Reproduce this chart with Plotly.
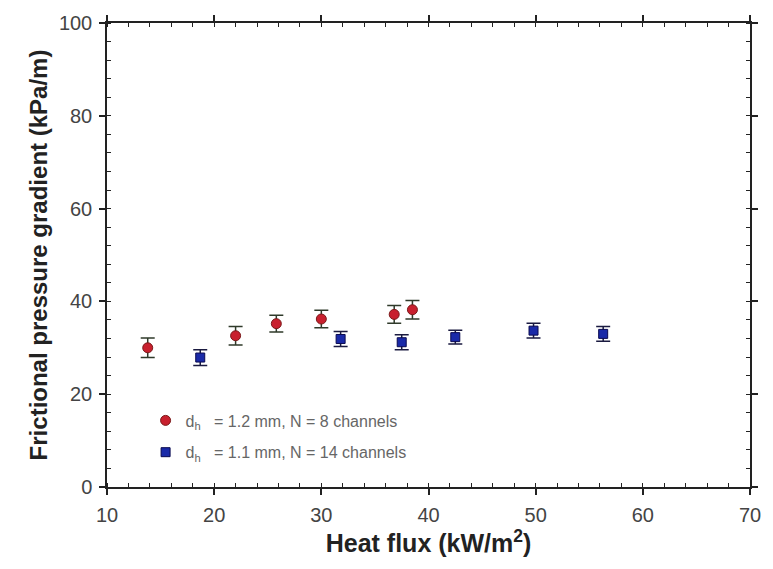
import plotly.graph_objects as go

# Series 1: d_h = 1.2 mm, N = 8 channels
x1 = [13.8, 22.0, 25.8, 30.0, 36.8, 38.5]
y1 = [30.0, 32.6, 35.2, 36.2, 37.2, 38.2]
e1 = [2.1, 2.0, 1.8, 1.9, 1.9, 2.0]
name1 = "d<sub>h</sub>   = 1.2 mm, N = 8 channels"

# Series 2: d_h = 1.1 mm, N = 14 channels
x2 = [18.7, 31.8, 37.5, 42.5, 49.8, 56.3]
y2 = [27.9, 31.9, 31.2, 32.3, 33.7, 33.0]
e2 = [1.7, 1.6, 1.6, 1.5, 1.6, 1.6]
name2 = "d<sub>h</sub>   = 1.1 mm, N = 14 channels"

fig = go.Figure()
fig.add_trace(go.Scatter(
    x=x1, y=y1, mode="markers", name=name1, legendgroup="a",
    marker=dict(symbol="circle", size=10, color="#c8202e",
                line=dict(color="#7a1a1a", width=1)),
    error_y=dict(type="data", array=e1, color="#2f3a2a", thickness=1.5, width=7),
))
fig.add_trace(go.Scatter(
    x=x2, y=y2, mode="markers", name=name2, legendgroup="b",
    marker=dict(symbol="square", size=9, color="#1a2aa8",
                line=dict(color="#0a0a50", width=1)),
    error_y=dict(type="data", array=e2, color="#1a1a40", thickness=1.5, width=7),
))

axis_common = dict(
    showline=True, linecolor="#222", linewidth=1.5, mirror="allticks",
    ticks="outside", ticklen=6, tickwidth=1.5, tickcolor="#222",
    showgrid=False, zeroline=False, ticklabelstandoff=3,
    tickfont=dict(family="Liberation Sans, Arial", size=20, color="#444"),
)

fig.update_layout(
    width=773, height=569,
    margin=dict(l=107, r=14, t=17, b=82),
    plot_bgcolor="white", paper_bgcolor="white",
    font=dict(family="Liberation Sans, Arial", color="#222"),
    xaxis=dict(range=[10, 70], dtick=10, tick0=10,
               minor=dict(dtick=2, ticks="inside", ticklen=4, tickcolor="#222", tickwidth=1.2),
               title=dict(text="<b>Heat flux (kW/m<sup>2</sup>)</b>",
                          font=dict(size=25, color="#222"), standoff=4),
               **axis_common),
    yaxis=dict(range=[0, 100], dtick=20,
               minor=dict(dtick=4, ticks="inside", ticklen=4, tickcolor="#222", tickwidth=1.2),
               title=dict(text="<b>Frictional pressure gradient (kPa/m)</b>",
                          font=dict(size=24, color="#222"), standoff=4),
               **axis_common),
    legend=dict(x=0.06, y=0.18, xanchor="left", yanchor="top",
                bgcolor="rgba(0,0,0,0)", tracegroupgap=8,
                font=dict(family="Liberation Sans, Arial", size=16, color="#666")),
    showlegend=True,
)

fig.write_html("out.html")
